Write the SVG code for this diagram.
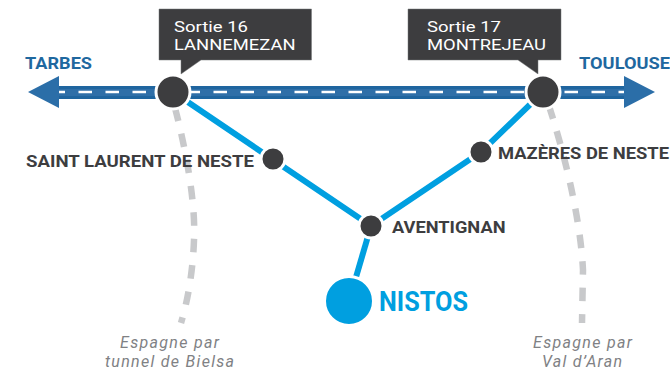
<svg xmlns="http://www.w3.org/2000/svg" width="670" height="372" viewBox="0 0 670 372">
<style>
text{font-family:"Roboto","Liberation Sans",sans-serif}
.city{font-weight:700;font-size:17px;fill:#1f689f}
.stop{font-weight:700;font-size:17px;fill:#3d3d3f}
.exit{font-weight:400;font-size:15px;fill:#fff}
.spain{font-style:italic;font-size:16px;fill:#808184}
.box{fill:#3d3d3f;stroke:#77787a;stroke-width:.5}
.node{fill:#3d3d3f;stroke:#fff;stroke-width:3}
.blue{fill:none;stroke:#009fe0;stroke-width:6}
.gray{fill:none;stroke:#c8c9cb;stroke-width:6.5;stroke-dasharray:13.5 13}
</style>
<g id="connectors">
<path class="gray" d="M175 108C184 142 196 200 194 240C193 270 188 300 181 323"/>
<path class="gray" d="M549 106C560 140 580 210 583 270L582 323"/>
<path d="M59 86H624V99H59Z" fill="#1f659f"/>
<path d="M59 89H624V96H59Z" fill="#2f6fa8"/>
<path d="M28 92L59 76V108Z" fill="#2b6ea8"/>
<path d="M655 92L624 76V108Z" fill="#2b6ea8"/>
<path d="M59 92H624" fill="none" stroke="#fff" stroke-width="2.600" stroke-dasharray="13.500 13.500" stroke-dashoffset="7.500"/>
<path class="blue" d="M173 92L371 226L481 152L543 92"/>
<path class="blue" d="M371 226L349 301"/>
</g>
<g id="tarbes"><text class="city" x="25" y="68.500" textLength="67" lengthAdjust="spacingAndGlyphs">TARBES</text></g>
<g id="toulouse"><text class="city" x="579" y="68.500" textLength="91" lengthAdjust="spacingAndGlyphs">TOULOUSE</text></g>
<g id="sortie16">
<path class="box" d="M159 9H311.500V60H201L181 74V60H159Z"/>
<text class="exit" x="174" y="31.500" textLength="74" lengthAdjust="spacingAndGlyphs">Sortie 16</text>
<text class="exit" x="174" y="49.500" textLength="121.500" lengthAdjust="spacingAndGlyphs">LANNEMEZAN</text>
<circle class="node" cx="173" cy="92" r="17"/>
</g>
<g id="sortie17">
<path class="box" d="M408 9H561V60H538V74L518 60H408Z"/>
<text class="exit" x="427" y="31.500" textLength="74" lengthAdjust="spacingAndGlyphs">Sortie 17</text>
<text class="exit" x="427" y="49.500" textLength="119" lengthAdjust="spacingAndGlyphs">MONTREJEAU</text>
<circle class="node" cx="543" cy="92" r="17"/>
</g>
<g id="saint-laurent">
<circle class="node" cx="273" cy="159" r="12"/>
<text class="stop" x="26" y="166.500" textLength="228" lengthAdjust="spacingAndGlyphs">SAINT LAURENT DE NESTE</text>
</g>
<g id="mazeres">
<circle class="node" cx="481" cy="152" r="12"/>
<text class="stop" x="498" y="158.500" textLength="171" lengthAdjust="spacingAndGlyphs">MAZÈRES DE NESTE</text>
</g>
<g id="aventignan">
<circle class="node" cx="371" cy="226" r="12"/>
<text class="stop" x="392" y="233" textLength="113.500" lengthAdjust="spacingAndGlyphs">AVENTIGNAN</text>
</g>
<g id="nistos">
<circle cx="349" cy="301" r="24.500" fill="#009fe0" stroke="#fff" stroke-width="3"/>
<text x="379" y="311" font-weight="700" font-size="27px" fill="#009fe0" textLength="89" lengthAdjust="spacingAndGlyphs">NISTOS</text>
</g>
<g id="bielsa">
<text class="spain" x="120" y="348" textLength="99" lengthAdjust="spacing">Espagne par</text>
<text class="spain" x="105" y="367" textLength="129" lengthAdjust="spacing">tunnel de Bielsa</text>
</g>
<g id="aran">
<text class="spain" x="533" y="348" textLength="99" lengthAdjust="spacing">Espagne par</text>
<text class="spain" x="542" y="367" textLength="80" lengthAdjust="spacing">Val d’Aran</text>
</g>
</svg>
